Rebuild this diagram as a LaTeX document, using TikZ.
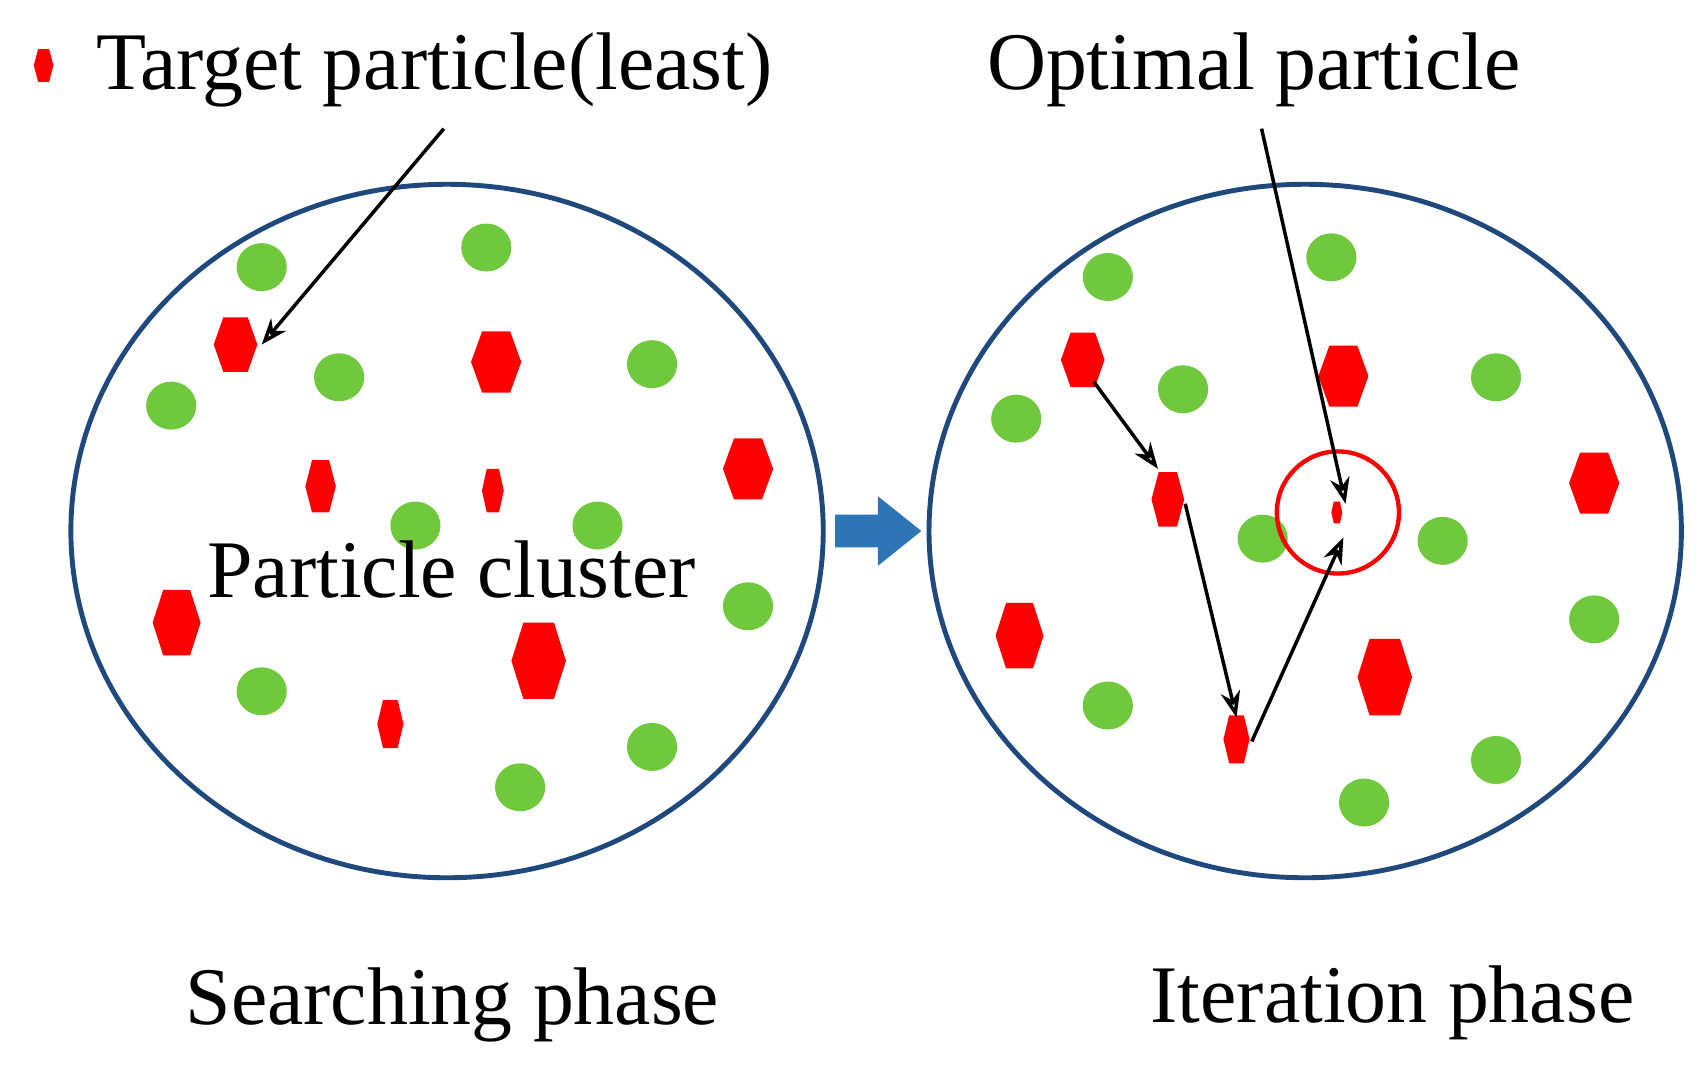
\documentclass[tikz,border=0pt]{standalone}
\usepackage{fontspec}
\setmainfont{Liberation Serif}
\usetikzlibrary{arrows.meta}
\definecolor{ring}{RGB}{31,73,125}
\definecolor{gr}{RGB}{112,200,60}
\definecolor{blk}{RGB}{46,117,182}
\newcommand{\hexa}[4]{\fill[red] (#1-#3/2,#2) -- (#1-0.28*#3,#2-#4/2) -- (#1+0.28*#3,#2-#4/2) -- (#1+#3/2,#2) -- (#1+0.28*#3,#2+#4/2) -- (#1-0.28*#3,#2+#4/2) -- cycle;}
\begin{document}
\begin{tikzpicture}[x=1pt,y=-1pt,
  txt/.style={font=\fontsize{75}{80}\selectfont,inner sep=0pt,anchor=base west},
  arr/.style={-{Stealth[length=24,width=18,open]},line width=3.2pt,black}]
\useasboundingbox (0,0) rectangle (1560,984);
\draw[ring,line width=4.5pt] (410,487) ellipse[x radius=345,y radius=318];
\draw[ring,line width=4.5pt] (1197,487) ellipse[x radius=345,y radius=318];
\fill[blk] (766,472) -- (805,472) -- (805,455) -- (845,487) -- (805,519) -- (805,502) -- (766,502) -- cycle;
\foreach \p in {(240,245),(446,227),(157,372),(311,346),(598,334),(381,482),(548,482),(686,556),(240,634),(598,685),(477,722),
(1016,254),(1221,236),(932,384),(1085,357),(1372,346),(1158,494),(1323,496),(1462,568),(1016,647),(1372,697),(1251,736)}
  {\fill[gr] \p ellipse[x radius=23,y radius=22];}
\hexa{216}{316}{40}{50}\hexa{455}{332}{46}{56}\hexa{294}{446}{28}{48}\hexa{452}{450}{20}{40}
\hexa{686}{430}{46}{56}\hexa{162}{571}{44}{60}\hexa{494}{606}{50}{70}\hexa{358}{664}{24}{44}
\hexa{40}{60}{18}{30}
\hexa{993}{330}{40}{50}\hexa{1232}{345}{46}{56}\hexa{1071}{458}{30}{50}\hexa{1226}{470}{10}{20}
\hexa{1462}{443}{46}{56}\hexa{935}{583}{44}{60}\hexa{1270}{621}{50}{70}\hexa{1134}{678}{24}{44}
\draw[red,line width=4pt] (1227,470) circle[radius=56];
\coordinate (a1) at (407,118); \coordinate (t1) at (240,316);
\coordinate (a2) at (1157,118); \coordinate (t2) at (1234,462);
\coordinate (c1) at (1003,350); \coordinate (c2) at (1062,430);
\coordinate (c3) at (1087,462); \coordinate (c4) at (1134,658);
\coordinate (c5) at (1148,680); \coordinate (c6) at (1232,493);
\draw[arr] (a1) -- (t1); \draw[arr] (a2) -- (t2);
\draw[arr] (c1) -- (c2); \draw[arr] (c3) -- (c4); \draw[arr] (c5) -- (c6);
\node[txt] (l1) at (88,82) {Target particle(least)};
\node[txt] (l2) at (905,82) {Optimal particle};
\node[txt] (l3) at (190,548) {Particle cluster};
\node[txt] (l4) at (170,940) {Searching phase};
\node[txt] (l5) at (1055,938) {Iteration phase};
\end{tikzpicture}
\end{document}
